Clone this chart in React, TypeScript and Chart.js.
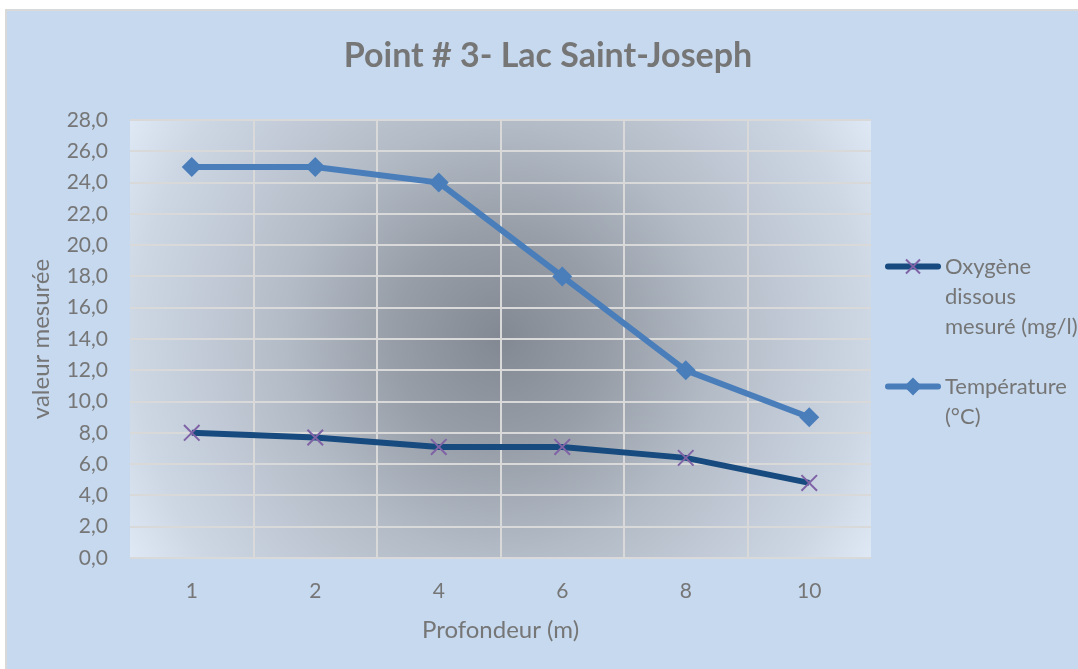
import React, { useEffect, useRef } from 'react';
import { Chart, registerables } from 'chart.js';

Chart.register(...registerables);

// ---- data ----
const depths: string[] = ['1', '2', '4', '6', '8', '10'];
const oxygen: number[] = [8.0, 7.7, 7.1, 7.1, 6.4, 4.8];
const temperature: number[] = [25, 25, 24, 18, 12, 9];
const yMin = 0;
const yMax = 28;
const yStep = 2;
const chartTitle = 'Point # 3- Lac Saint-Joseph';
const xTitle = 'Profondeur (m)';
const yTitle = 'valeur mesurée';
const oxygenLabel = ['Oxygène', 'dissous', 'mesuré (mg/l)'];
const temperatureLabel = ['Température', '(°C)'];

const FONT = 'Lato, "Open Sans", "DejaVu Sans", sans-serif';
const TEXT_GRAY = '#767676';
const GRID = '#d9d9d9';
const OXY_LINE = '#174a7e';
const OXY_MARK = '#7f63a6';
const TEMP = '#4a7ebb';

export default function App() {
  const ref = useRef<HTMLCanvasElement>(null);

  useEffect(() => {
    const canvas = ref.current;
    if (!canvas) return;

    const plotBg = {
      id: 'plotBg',
      beforeDraw(chart: any) {
        const { ctx, chartArea: a } = chart;
        const cx = (a.left + a.right) / 2;
        const cy = (a.top + a.bottom) / 2;
        const R = Math.hypot((a.right - a.left) / 2, (a.bottom - a.top) / 2);
        ctx.save();
        const g = ctx.createRadialGradient(cx, cy, 0, cx, cy, R);
        g.addColorStop(0, '#828992');
        g.addColorStop(0.25, '#979ea8');
        g.addColorStop(0.5, '#b3bbc6');
        g.addColorStop(0.85, '#cdd7e4');
        g.addColorStop(1, '#dee9f5');
        ctx.fillStyle = g;
        ctx.fillRect(a.left, a.top, a.right - a.left, a.bottom - a.top);
        ctx.restore();
      },
    };

    const titleAndLegend = {
      id: 'titleAndLegend',
      afterDraw(chart: any) {
        const ctx = chart.ctx as CanvasRenderingContext2D;
        ctx.save();
        // title
        ctx.fillStyle = TEXT_GRAY;
        ctx.font = `bold 34px ${FONT}`;
        ctx.textAlign = 'center';
        ctx.textBaseline = 'middle';
        ctx.fillText(chartTitle, 541, 45);

        // legend
        ctx.textAlign = 'left';
        ctx.font = `22px ${FONT}`;
        const entries = [
          { lines: oxygenLabel, y: 255.5, color: OXY_LINE, kind: 'x' },
          { lines: temperatureLabel, y: 375.5, color: TEMP, kind: 'diamond' },
        ];
        for (const e of entries) {
          ctx.strokeStyle = e.color;
          ctx.lineWidth = 6;
          ctx.lineCap = 'round';
          ctx.beginPath();
          ctx.moveTo(881, e.y);
          ctx.lineTo(931, e.y);
          ctx.stroke();
          if (e.kind === 'x') {
            const r = 7;
            ctx.strokeStyle = OXY_MARK;
            ctx.lineWidth = 2;
            ctx.lineCap = 'butt';
            ctx.beginPath();
            ctx.moveTo(906 - r, e.y - r);
            ctx.lineTo(906 + r, e.y + r);
            ctx.moveTo(906 + r, e.y - r);
            ctx.lineTo(906 - r, e.y + r);
            ctx.stroke();
          } else {
            const r = 9;
            ctx.fillStyle = TEMP;
            ctx.beginPath();
            ctx.moveTo(906, e.y - r);
            ctx.lineTo(906 + r, e.y);
            ctx.lineTo(906, e.y + r);
            ctx.lineTo(906 - r, e.y);
            ctx.closePath();
            ctx.fill();
          }
          ctx.fillStyle = TEXT_GRAY;
          e.lines.forEach((t, i) => ctx.fillText(t, 938, e.y + i * 30));
        }
        ctx.restore();
      },
    };

    const chart = new Chart(canvas, {
      type: 'line',
      data: {
        labels: depths,
        datasets: [
          {
            label: oxygenLabel.join(' '),
            data: oxygen,
            borderColor: OXY_LINE,
            borderWidth: 6,
            pointStyle: 'crossRot',
            pointRadius: 11,
            pointBorderColor: OXY_MARK,
            pointBorderWidth: 2,
            pointBackgroundColor: OXY_MARK,
            tension: 0,
          },
          {
            label: temperatureLabel.join(' '),
            data: temperature,
            borderColor: TEMP,
            borderWidth: 6,
            pointStyle: 'rectRot',
            pointRadius: 10,
            pointBorderColor: TEMP,
            pointBorderWidth: 0,
            pointBackgroundColor: TEMP,
            tension: 0,
          },
        ],
      },
      options: {
        responsive: false,
        animation: false,
        layout: { padding: { top: 109, right: 207, left: 0, bottom: 0 } },
        plugins: {
          legend: { display: false },
          title: { display: false },
          tooltip: { enabled: false },
        },
        scales: {
          x: {
            type: 'category',
            offset: true,
            afterFit: (s: any) => {
              s.height = 111;
            },
            grid: {
              offset: true,
              drawTicks: false,
              lineWidth: 2,
              color: (c: any) => (c.type !== 'tick' || c.index === 0 ? 'rgba(0,0,0,0)' : GRID),
            },
            border: { display: false },
            ticks: {
              padding: 21,
              color: TEXT_GRAY,
              font: { family: FONT, size: 21 },
              maxRotation: 0,
            },
            title: {
              display: true,
              text: xTitle,
              color: TEXT_GRAY,
              font: { family: FONT, size: 24 },
              padding: { top: 0, bottom: 24 },
            },
          },
          y: {
            min: yMin,
            max: yMax,
            afterFit: (s: any) => {
              s.width = 123;
            },
            grid: { drawTicks: false, lineWidth: 2, color: GRID },
            border: { display: false },
            ticks: {
              stepSize: yStep,
              padding: 22,
              color: TEXT_GRAY,
              font: { family: FONT, size: 21 },
              callback: (v: any) => Number(v).toFixed(1).replace('.', ','),
            },
            title: {
              display: true,
              text: yTitle,
              color: TEXT_GRAY,
              font: { family: FONT, size: 24 },
              padding: { top: 20, bottom: 0 },
            },
          },
        },
      },
      plugins: [plotBg, titleAndLegend],
    });

    return () => chart.destroy();
  }, []);

  return (
    <div
      style={{
        position: 'absolute',
        left: 0,
        top: 0,
        width: 1078,
        height: 669,
        background: '#ffffff',
        overflow: 'hidden',
      }}
    >
      <div
        style={{
          position: 'absolute',
          left: 5,
          top: 9,
          width: 1073,
          height: 660,
          boxSizing: 'border-box',
          borderLeft: '2px solid #d9d9d9',
          borderTop: '2px solid #d9d9d9',
          background: '#c6d9ef',
        }}
      >
        <canvas ref={ref} width={1071} height={658} style={{ display: 'block', width: 1071, height: 658 }} />
      </div>
    </div>
  );
}
